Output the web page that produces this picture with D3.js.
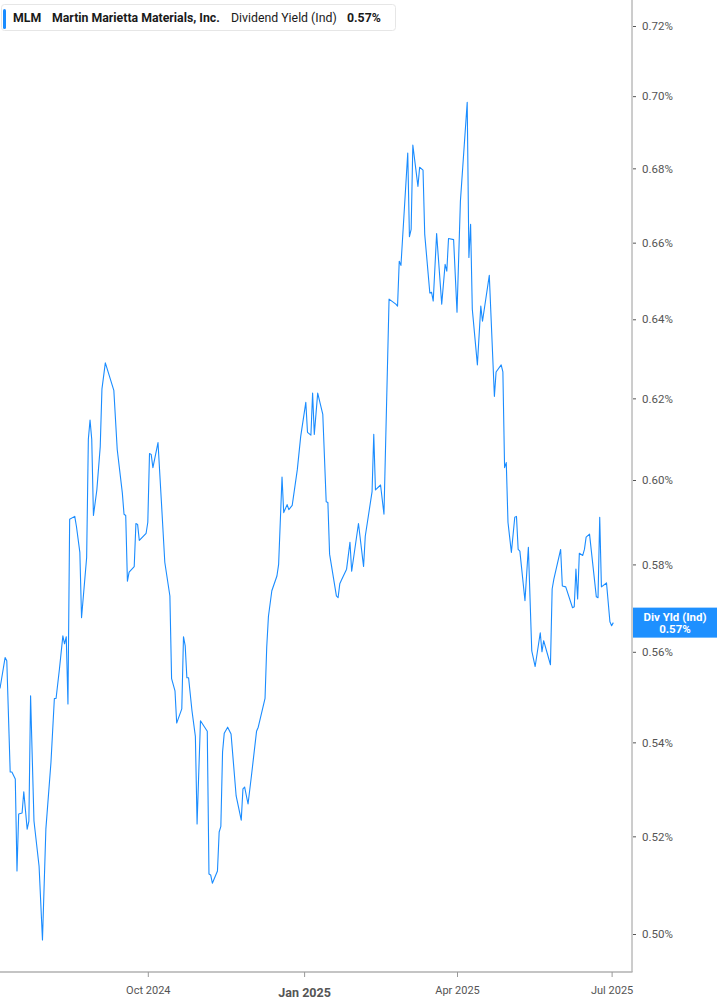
<!DOCTYPE html>
<html>
<head>
<meta charset="utf-8">
<script src="https://cdn.jsdelivr.net/npm/d3@7"></script>
<style>
  body { margin: 0; background: #fff; }
  svg { display: block; font-family: Roboto, "Noto Sans", sans-serif; }
</style>
</head>
<body>
<svg id="chart" width="717" height="1005"></svg>
<script>
var ticker = "MLM";
var company = "Martin Marietta Materials, Inc.";
var metric = "Dividend Yield (Ind)";
var lastLabel = "0.57%";

var dates = [
  "2024-07-06","2024-07-09","2024-07-10","2024-07-12","2024-07-13","2024-07-15","2024-07-16","2024-07-17","2024-07-19","2024-07-20",
  "2024-07-22","2024-07-23","2024-07-24","2024-07-26","2024-07-29","2024-07-31","2024-08-02","2024-08-05","2024-08-07","2024-08-08",
  "2024-08-10","2024-08-12","2024-08-13","2024-08-14","2024-08-15","2024-08-16","2024-08-19","2024-08-20","2024-08-22","2024-08-23",
  "2024-08-26","2024-08-27","2024-08-28","2024-08-29","2024-08-30","2024-09-01","2024-09-03","2024-09-04","2024-09-06","2024-09-11",
  "2024-09-13","2024-09-16","2024-09-17","2024-09-18","2024-09-19","2024-09-20","2024-09-23","2024-09-24","2024-09-25","2024-09-26",
  "2024-09-30","2024-10-01","2024-10-02","2024-10-03","2024-10-04","2024-10-07","2024-10-09","2024-10-11","2024-10-14","2024-10-15",
  "2024-10-17","2024-10-18","2024-10-21","2024-10-22","2024-10-23","2024-10-24","2024-10-25","2024-10-27","2024-10-29","2024-10-30",
  "2024-11-01","2024-11-05","2024-11-06","2024-11-07","2024-11-08","2024-11-11","2024-11-12","2024-11-13","2024-11-14","2024-11-15",
  "2024-11-17","2024-11-19","2024-11-22","2024-11-25","2024-11-26","2024-11-27","2024-11-29","2024-12-01","2024-12-04","2024-12-05",
  "2024-12-09","2024-12-10","2024-12-11","2024-12-13","2024-12-16","2024-12-17","2024-12-19","2024-12-20","2024-12-22","2024-12-23",
  "2024-12-25","2024-12-28","2024-12-30","2025-01-02","2025-01-03","2025-01-05","2025-01-06","2025-01-07","2025-01-09","2025-01-12",
  "2025-01-14","2025-01-15","2025-01-16","2025-01-20","2025-01-21","2025-01-22","2025-01-23","2025-01-26","2025-01-28","2025-01-29",
  "2025-02-02","2025-02-05","2025-02-06","2025-02-10","2025-02-11","2025-02-12","2025-02-15","2025-02-17","2025-02-20","2025-02-24",
  "2025-02-25","2025-02-26","2025-02-27","2025-03-03","2025-03-04","2025-03-05","2025-03-06","2025-03-09","2025-03-10","2025-03-12",
  "2025-03-13","2025-03-16","2025-03-17","2025-03-18","2025-03-20","2025-03-23","2025-03-25","2025-03-26","2025-03-27","2025-03-30",
  "2025-04-01","2025-04-03","2025-04-07","2025-04-08","2025-04-09","2025-04-10","2025-04-13","2025-04-15","2025-04-16","2025-04-20",
  "2025-04-23","2025-04-24","2025-04-27","2025-04-28","2025-04-29","2025-04-30","2025-05-01","2025-05-03","2025-05-05","2025-05-06",
  "2025-05-07","2025-05-08","2025-05-11","2025-05-13","2025-05-15","2025-05-17","2025-05-20","2025-05-21","2025-05-22","2025-05-26",
  "2025-05-27","2025-05-28","2025-06-01","2025-06-02","2025-06-04","2025-06-08","2025-06-09","2025-06-10","2025-06-11","2025-06-12",
  "2025-06-14","2025-06-15","2025-06-16","2025-06-18","2025-06-22","2025-06-23","2025-06-24","2025-06-25","2025-06-28","2025-06-30",
  "2025-07-01","2025-07-02"
];

var yields = [
  0.5518,0.5587,0.5580,0.5336,0.5336,0.5321,0.5128,0.5247,0.5249,0.5294,
  0.5215,0.5232,0.5502,0.5232,0.5138,0.4988,0.5215,0.5357,0.5496,0.5496,
  0.5562,0.5636,0.5618,0.5634,0.5484,0.5906,0.5913,0.5889,0.5828,0.5677,
  0.5816,0.6099,0.6146,0.6099,0.5915,0.5976,0.6081,0.6223,0.6289,0.6220,
  0.6074,0.5969,0.5918,0.5915,0.5761,0.5782,0.5795,0.5896,0.5894,0.5856,
  0.5873,0.5899,0.6064,0.6062,0.6030,0.6091,0.5948,0.5805,0.5727,0.5540,
  0.5513,0.5442,0.5473,0.5634,0.5614,0.5542,0.5542,0.5469,0.5413,0.5226,
  0.5447,0.5424,0.5122,0.5120,0.5103,0.5128,0.5209,0.5221,0.5379,0.5420,
  0.5433,0.5418,0.5285,0.5234,0.5300,0.5304,0.5268,0.5328,0.5424,0.5433,
  0.5496,0.5611,0.5680,0.5739,0.5773,0.5800,0.6007,0.5922,0.5941,0.5929,
  0.5939,0.6025,0.6106,0.6190,0.6116,0.6109,0.6213,0.6111,0.6213,0.6160,
  0.5948,0.5946,0.5824,0.5727,0.5723,0.5755,0.5764,0.5789,0.5852,0.5784,
  0.5896,0.5795,0.5866,0.5972,0.6111,0.5976,0.5988,0.5918,0.6452,0.6439,
  0.6434,0.6551,0.6540,0.6842,0.6616,0.6635,0.6864,0.6751,0.6803,0.6795,
  0.6622,0.6468,0.6470,0.6447,0.6624,0.6439,0.6543,0.6525,0.6611,0.6608,
  0.6418,0.6711,0.6983,0.6561,0.6649,0.6426,0.6284,0.6434,0.6395,0.6514,
  0.6205,0.6266,0.6284,0.6266,0.6030,0.6042,0.5899,0.5828,0.5911,0.5913,
  0.5835,0.5831,0.5716,0.5840,0.5602,0.5567,0.5643,0.5600,0.5625,0.5571,
  0.5743,0.5766,0.5835,0.5750,0.5748,0.5700,0.5702,0.5789,0.5720,0.5826,
  0.5821,0.5835,0.5864,0.5871,0.5725,0.5723,0.5911,0.5748,0.5757,0.5668,
  0.5659,0.5666
];

var yTicks = [0.50, 0.52, 0.54, 0.56, 0.58, 0.60, 0.62, 0.64, 0.66, 0.68, 0.70, 0.72];
var xTickDates = ["2024-10-01", "2025-01-01", "2025-04-01", "2025-07-01"];
var xTickLabels = ["Oct 2024", "Jan 2025", "Apr 2025", "Jul 2025"];

var parse = d3.timeParse("%Y-%m-%d");
var data = dates.map(function(d, i) { return { date: parse(d), value: yields[i] }; });

var svg = d3.select("#chart");
var plotRight = 632, plotBottom = 972;
var lineColor = "#1a8cff";

var x = d3.scaleTime()
  .domain([parse("2024-07-06"), parse("2025-07-13")])
  .range([0, plotRight]);

var y = d3.scaleLog()
  .domain([0.50, 0.72])
  .range([934, 26]);

// yield line
var line = d3.line()
  .x(function(d) { return x(d.date); })
  .y(function(d) { return y(d.value); });

svg.append("path")
  .datum(data)
  .attr("d", line)
  .style("fill", "none")
  .style("stroke", lineColor)
  .style("stroke-width", 1.1)
  .style("stroke-linejoin", "round");

// frame lines
svg.append("line").attr("x1", plotRight).attr("x2", plotRight).attr("y1", 0).attr("y2", plotBottom)
  .style("stroke", "#9a9a9a").style("stroke-width", 1);
svg.append("line").attr("x1", 0).attr("x2", plotRight + 0.5).attr("y1", plotBottom).attr("y2", plotBottom)
  .style("stroke", "#b0b0b0").style("stroke-width", 1.5);

// y axis
var yAxis = d3.axisRight(y)
  .tickValues(yTicks)
  .tickSize(3)
  .tickPadding(6)
  .tickFormat(function(d) { return d.toFixed(2) + "%"; });

var yg = svg.append("g").attr("transform", "translate(" + (plotRight + 1) + ",0)").call(yAxis);
yg.select(".domain").remove();
yg.selectAll(".tick line").style("stroke", "#555");
yg.selectAll(".tick text").style("font-size", "11.5px").style("fill", "#555").style("font-family", "Roboto, sans-serif");

// x axis
var xAxis = d3.axisBottom(x)
  .tickValues(xTickDates.map(parse))
  .tickSize(5)
  .tickPadding(9)
  .tickFormat(function(d, i) { return xTickLabels[i]; });

var xg = svg.append("g").attr("transform", "translate(0," + plotBottom + ")").call(xAxis);
xg.select(".domain").remove();
xg.selectAll(".tick line").style("stroke", "#999");
xg.selectAll(".tick text")
  .style("font-family", "Roboto, sans-serif")
  .style("fill", "#555")
  .style("font-size", function(d, i) { return i == 1 ? "12.5px" : "11px"; })
  .style("font-weight", function(d, i) { return i == 1 ? "bold" : "normal"; })
  .attr("y", function(d, i) { return i == 1 ? 16 : 14; });

// current value tag
var last = data[data.length - 1];
var ty = y(last.value);
var tag = svg.append("g");
tag.append("rect").attr("x", plotRight + 1).attr("y", ty - 15).attr("width", 717 - plotRight).attr("height", 30)
  .style("fill", "#1e90ff");
tag.append("text").attr("x", 675).attr("y", ty - 2).attr("text-anchor", "middle")
  .style("fill", "#fff").style("font-size", "11.5px").style("font-weight", "bold").text("Div Yld (Ind)");
tag.append("text").attr("x", 675).attr("y", ty + 10).attr("text-anchor", "middle")
  .style("fill", "#fff").style("font-size", "11.5px").style("font-weight", "bold").text(lastLabel);

// legend header
var hd = svg.append("g");
hd.append("rect").attr("x", 1.5).attr("y", 4.5).attr("width", 394).attr("height", 26).attr("rx", 3)
  .style("fill", "#fff").style("stroke", "#e6e6e6");
hd.append("rect").attr("x", 3).attr("y", 9).attr("width", 3).attr("height", 20).attr("rx", 1.5)
  .style("fill", lineColor);
var hText = [
  { t: ticker, x: 13, w: "bold" },
  { t: company, x: 52, w: "bold" },
  { t: metric, x: 231, w: "normal" },
  { t: lastLabel, x: 347, w: "bold" }
];
hd.selectAll("text.h").data(hText).enter().append("text")
  .attr("class", "h")
  .attr("x", function(d) { return d.x; })
  .attr("y", 21.5)
  .style("font-size", "12.3px")
  .style("font-weight", function(d) { return d.w; })
  .style("fill", "#1a1a1a")
  .text(function(d) { return d.t; });
</script>
</body>
</html>
